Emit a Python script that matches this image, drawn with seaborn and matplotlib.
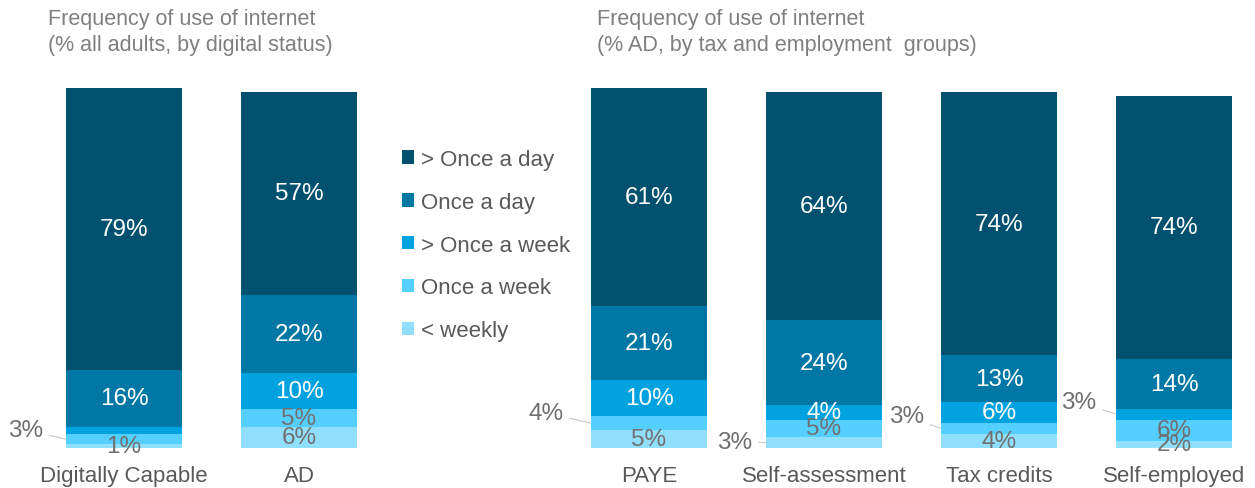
import pandas as pd
import matplotlib.pyplot as plt
import seaborn as sns

# data
groups = ["Digitally Capable", "AD", "PAYE", "Self-assessment", "Tax credits", "Self-employed"]
series = ["> Once a day", "Once a day", "> Once a week", "Once a week", "< weekly"]
more_than_daily = [79, 57, 61, 64, 74, 74]
once_daily = [16, 22, 21, 24, 13, 14]
more_than_weekly = [2, 10, 10, 4, 6, 3]
once_weekly = [3, 5, 4, 5, 3, 6]
less_than_weekly = [1, 6, 5, 3, 4, 2]

colors = ["#00516f", "#0077a5", "#00a2df", "#55cfff", "#91dfff"]
titles_left = ["Frequency of use of internet", "(% all adults, by digital status)"]
titles_right = ["Frequency of use of internet", "(% AD, by tax and employment  groups)"]

# segments without a value label in the reference
unlabeled = [("Digitally Capable", "> Once a week")]
# labels drawn outside the bar with a leader line: (group, series) -> offset in pixels
leader = {
    ("Digitally Capable", "Once a week"): (-40, 9),
    ("PAYE", "Once a week"): (-45, 10),
    ("Self-assessment", "< weekly"): (-31, 1),
    ("Tax credits", "Once a week"): (-34, 12),
    ("Self-employed", "> Once a week"): (-37, 12),
}

values = [more_than_daily, once_daily, more_than_weekly, once_weekly, less_than_weekly]
rows = []
for gi, g in enumerate(groups):
    bottom = 0
    # stack from the bottom (< weekly) upward
    for si in range(len(series) - 1, -1, -1):
        v = values[si][gi]
        rows.append({"group": g, "series": series[si], "value": v,
                     "bottom": bottom, "top": bottom + v})
        bottom += v
df = pd.DataFrame(rows)

order = groups[:2] + [" "] + groups[2:]

sns.set_style("white")
plt.rcParams['font.family'] = ['Liberation Sans', 'DejaVu Sans']

fig = plt.figure(figsize=(12.55, 4.89), dpi=100)
px = 3.56  # pixels per percent
ax = fig.add_axes([0, 40 / 489, 1, 369 / 489])

for s, c in zip(series, colors):
    sub = df[df["series"] == s]
    sns.barplot(data=sub, x="group", y="top", order=order, color=c, saturation=1,
                width=0.663, errorbar=None, label=s, ax=ax, linewidth=0)

for _, r in df.iterrows():
    key = (r["group"], r["series"])
    if key in unlabeled:
        continue
    x = order.index(r["group"])
    si = series.index(r["series"])
    y = r["bottom"] + r["value"] / 2
    txt = f"{r['value']}%"
    if key in leader:
        ax.annotate(txt, xy=(x - 0.663 / 2, y), xytext=leader[key], textcoords="offset pixels",
                    ha="center", va="center", fontsize=17.5, color="#707070",
                    arrowprops=dict(arrowstyle="-", color="#c8c8c8", lw=0.8, shrinkA=2, shrinkB=0))
    else:
        ax.text(x, y, txt, ha="center", va="center", fontsize=17.5,
                color="white" if si < 3 else "#707070")

ax.set_xlim(-0.709, 6.463)
ax.set_ylim(0, 369 / px)
ax.set_xlabel("")
ax.set_ylabel("")
ax.set_yticks([])
ax.tick_params(axis="x", length=0, pad=12.5, labelsize=16, labelcolor="#595959")
for sp in ax.spines.values():
    sp.set_visible(False)
ax.patch.set_alpha(0)

ax.legend(loc="upper left", bbox_to_anchor=(402 / 1255, 1 - 150 / 489), bbox_transform=fig.transFigure,
          frameon=False, fontsize=16, handlelength=0.55, handleheight=0.55, handletextpad=0.3,
          labelspacing=0.98, borderpad=0, borderaxespad=0, labelcolor="#595959")

for i, t in enumerate(titles_left):
    fig.text(48 / 1255, 1 - (19 + 26 * i) / 489, t, ha="left", va="center", fontsize=15.5, color="#7f7f7f")
for i, t in enumerate(titles_right):
    fig.text(597 / 1255, 1 - (19 + 26 * i) / 489, t, ha="left", va="center", fontsize=15.5, color="#7f7f7f")

plt.savefig("out.png", dpi=100)
